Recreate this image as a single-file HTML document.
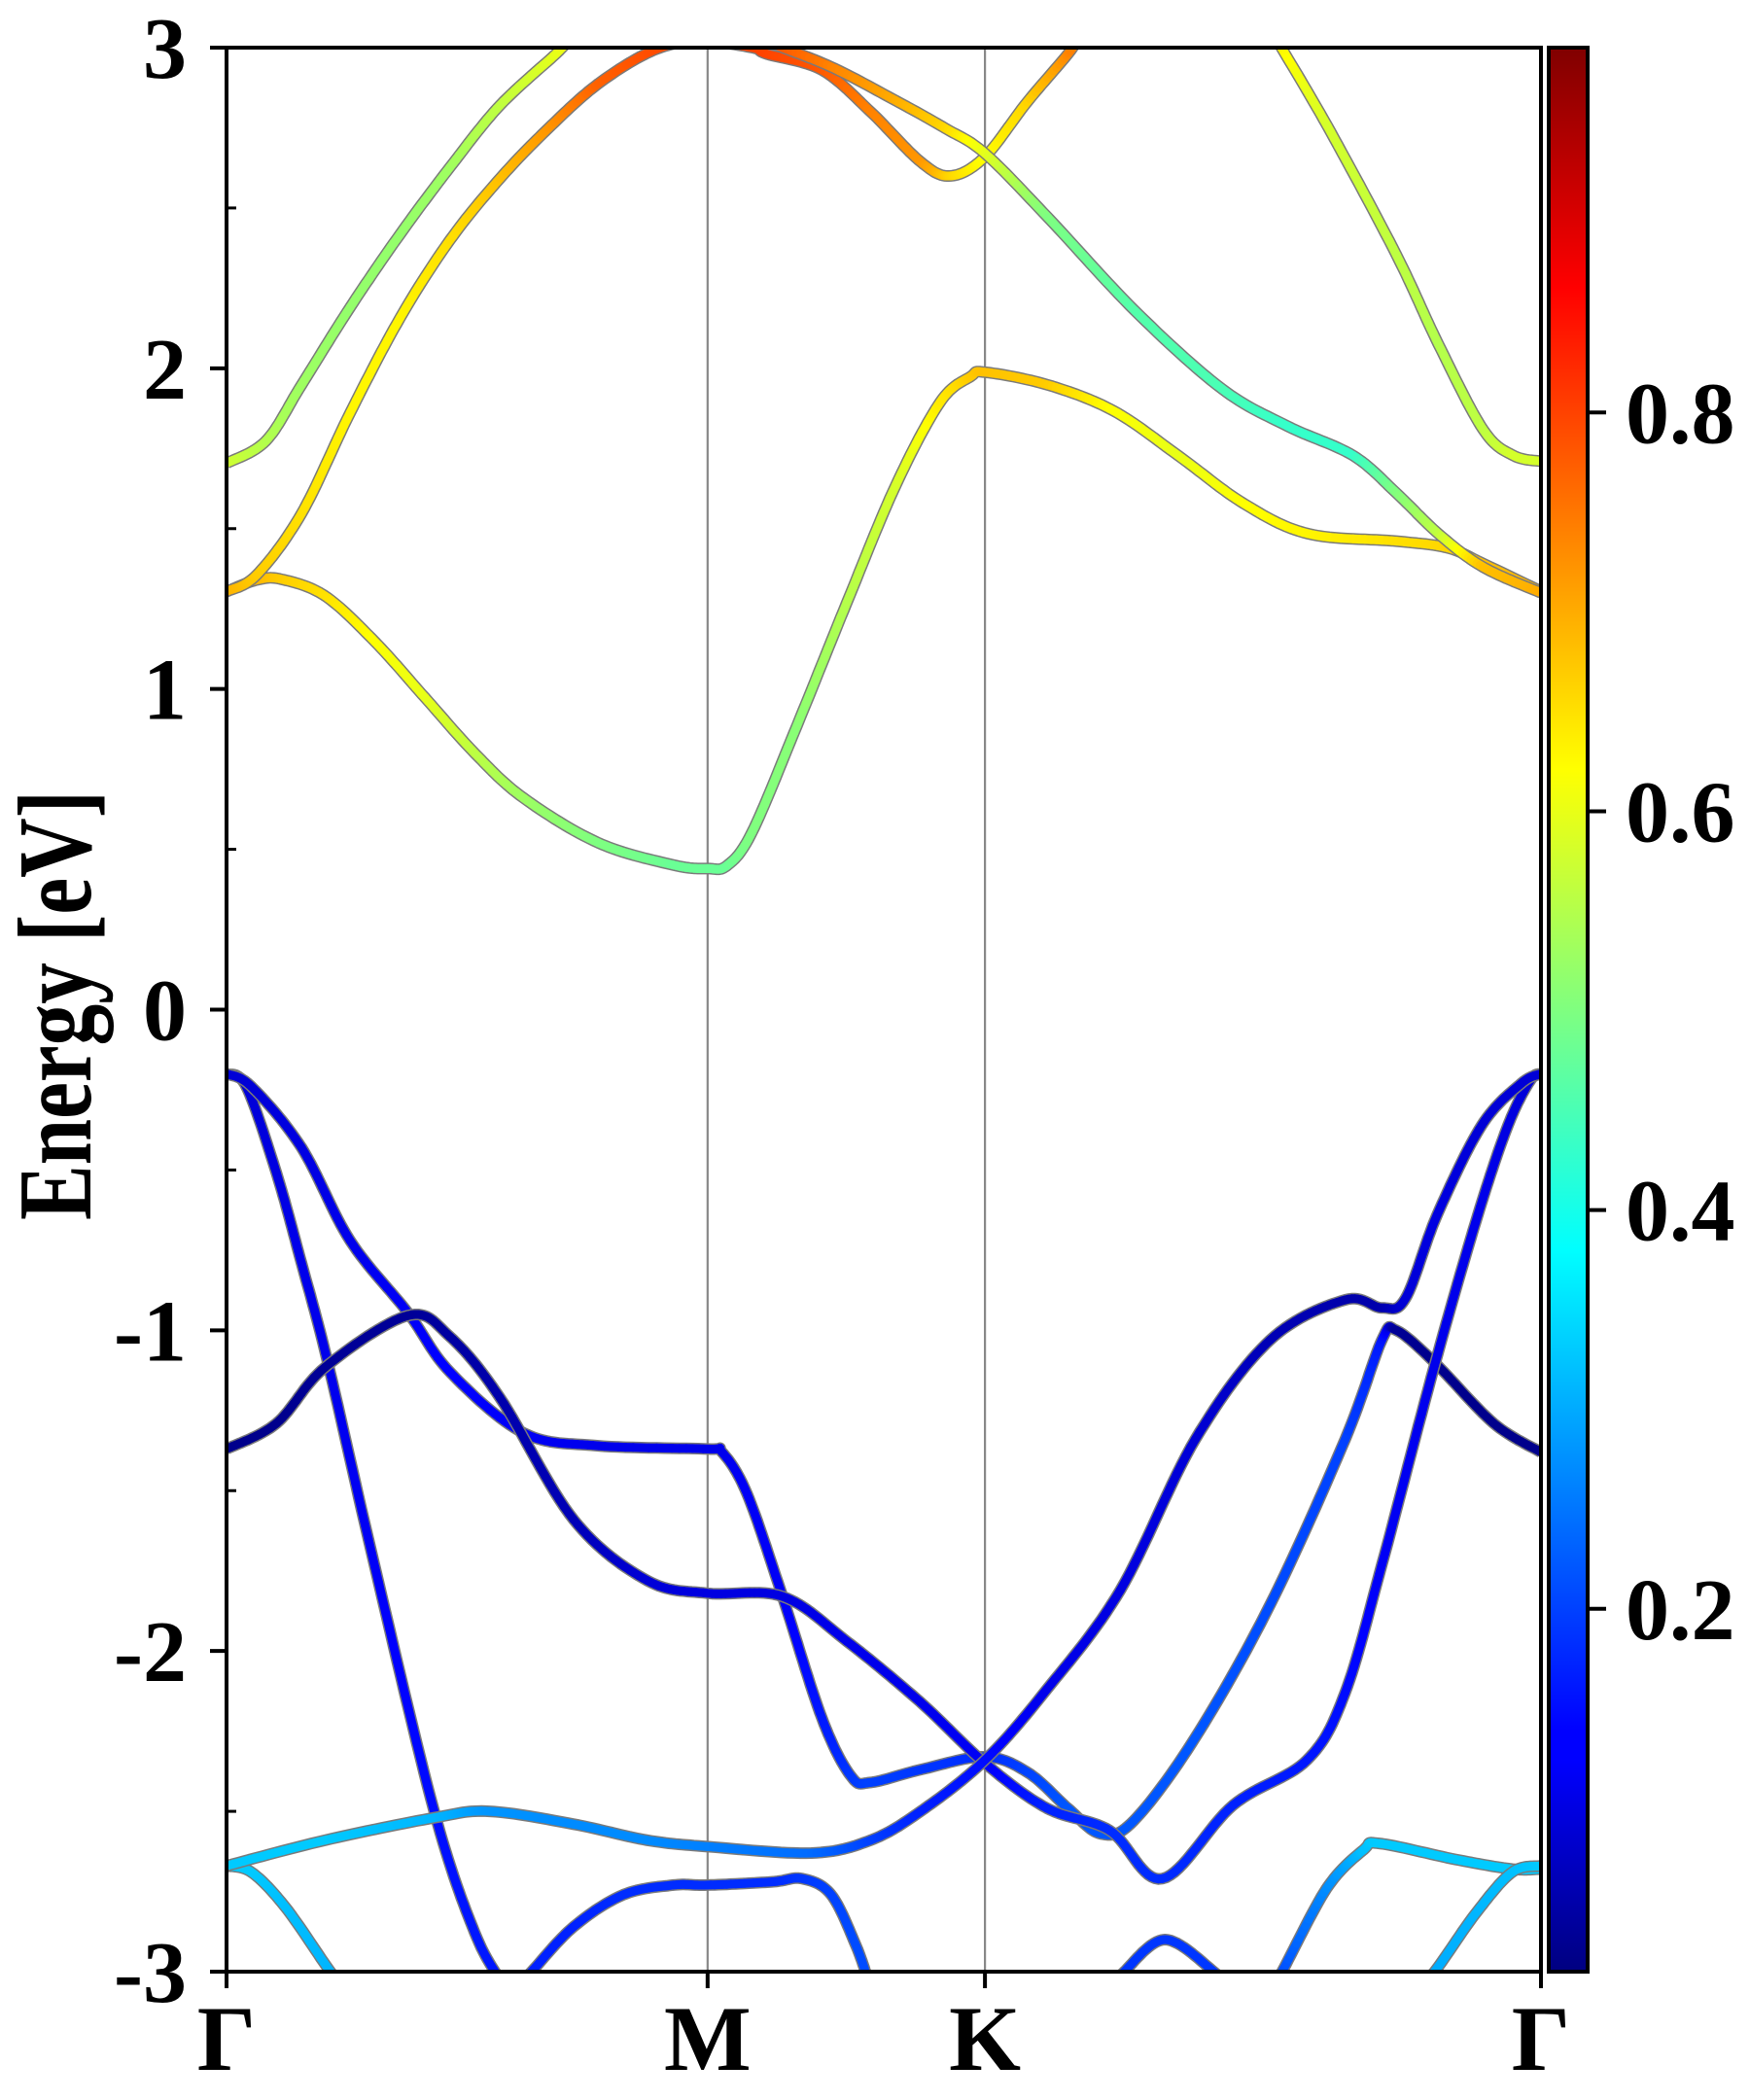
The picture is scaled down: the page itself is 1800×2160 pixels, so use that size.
<!DOCTYPE html>
<html><head><meta charset="utf-8">
<style>
html,body{margin:0;padding:0;background:#fff;}
svg{display:block;}
text{font-family:"Liberation Serif","DejaVu Serif",serif;font-weight:bold;fill:#000;}
</style></head>
<body>
<svg id="chart" width="1800" height="2160" viewBox="0 0 1800 2160">
<defs>
  <clipPath id="plotclip"><rect x="233" y="49" width="1352" height="1979"/></clipPath>
  <linearGradient id="jetgrad" x1="0" y1="1" x2="0" y2="0">
    <stop offset="0" stop-color="#000080"/>
    <stop offset="0.11" stop-color="#0000ff"/>
    <stop offset="0.125" stop-color="#0000ff"/>
    <stop offset="0.375" stop-color="#00ffff"/>
    <stop offset="0.625" stop-color="#ffff00"/>
    <stop offset="0.875" stop-color="#ff0000"/>
    <stop offset="1" stop-color="#800000"/>
  </linearGradient>
</defs>
<g id="bands" clip-path="url(#plotclip)"></g>
<g id="axes"></g>
</svg>
<script>
// ---- data ----
const kLabels = ["Γ","M","K","Γ"];
const kLabelPos = [0, 0.366, 0.577, 1];
const yTicks = [-3,-2,-1,0,1,2,3];
const yTickLabels = ["-3","-2","-1","0","1","2","3"];
const cbTicks = [0.2,0.4,0.6,0.8];
const cbTickLabels = ["0.2","0.4","0.6","0.8"];
const cbMin = 0.018, cbMax = 0.983;
// each band: k (path fraction), E (eV), w (weight)
const bandK = [
  [0,0.015,0.038,0.057,0.077,0.113,0.158,0.189,0.211,0.218,0.232,0.264,0.302,0.34,0.366,0.415,0.438,0.46,0.479,0.49],
  [0,0.019,0.057,0.094,0.138,0.17,0.226,0.283,0.366,0.377,0.396,0.423,0.453,0.475,0.49,0.528,0.577,0.61,0.64,0.665,0.69,0.737,0.794,0.851,0.879,0.89,0.919,0.964,1],
  [0,0.038,0.075,0.138,0.17,0.208,0.264,0.32,0.366,0.423,0.472,0.528,0.577,0.624,0.672,0.712,0.766,0.822,0.851,0.879,0.919,0.952,0.975,0.992,1],
  [0,0.019,0.045,0.079,0.09],
  [0,0.075,0.158,0.2,0.264,0.32,0.366,0.445,0.49,0.528,0.577,0.624,0.68,0.737,0.794,0.851,0.879,0.897,0.921,0.955,0.985,1],
  [0.795,0.803,0.837,0.865,0.877,0.935,0.978,1],
  [0.905,0.919,0.95,0.978,1],
  [0.675,0.683,0.714,0.751,0.76],
  [0,0.023,0.042,0.075,0.113,0.151,0.189,0.226,0.283,0.34,0.366,0.381,0.4,0.434,0.472,0.509,0.543,0.566,0.577,0.625,0.675,0.724,0.774,0.823,0.89,0.929,0.956,1],
  [0,0.03,0.057,0.094,0.132,0.17,0.208,0.253,0.265],
  [0.795,0.804,0.84,0.89,0.922,0.956,0.979,1],
  [0,0.023,0.057,0.094,0.132,0.17,0.208,0.245,0.283,0.325,0.36,0.4,0.411,0.453,0.49,0.528,0.551,0.577,0.609,0.642,0.65],
  [0.4,0.411,0.46,0.509,0.547,0.577,0.625,0.691,0.757,0.807,0.857,0.89,0.922,0.956,1]
];
const bandE = [
  [-0.2,-0.24,-0.51,-0.79,-1.1,-1.74,-2.5,-2.88,-3.04,-3.06,-3.0,-2.86,-2.76,-2.73,-2.73,-2.72,-2.71,-2.76,-2.92,-3.05],
  [-0.2,-0.24,-0.43,-0.72,-0.945,-1.13,-1.32,-1.36,-1.37,-1.38,-1.51,-1.83,-2.21,-2.39,-2.41,-2.37,-2.33,-2.38,-2.49,-2.57,-2.53,-2.27,-1.855,-1.34,-1.03,-1.0,-1.1,-1.29,-1.38],
  [-1.37,-1.29,-1.115,-0.954,-1.02,-1.21,-1.59,-1.78,-1.82,-1.83,-1.97,-2.16,-2.35,-2.49,-2.56,-2.71,-2.48,-2.34,-2.13,-1.73,-1.11,-0.64,-0.36,-0.22,-0.2],
  [-2.67,-2.69,-2.8,-3.0,-3.05],
  [-2.67,-2.59,-2.52,-2.5,-2.54,-2.59,-2.61,-2.63,-2.59,-2.5,-2.34,-2.12,-1.81,-1.34,-1.03,-0.905,-0.93,-0.9,-0.64,-0.36,-0.23,-0.2],
  [-3.05,-3.0,-2.74,-2.62,-2.6,-2.65,-2.68,-2.68],
  [-3.05,-3.0,-2.82,-2.69,-2.67],
  [-3.05,-3.0,-2.9,-3.0,-3.05],
  [1.304,1.34,1.342,1.29,1.147,0.973,0.799,0.66,0.52,0.451,0.44,0.45,0.555,0.886,1.27,1.634,1.895,1.974,1.988,1.948,1.867,1.728,1.578,1.484,1.461,1.44,1.391,1.305],
  [1.704,1.774,1.948,2.19,2.418,2.627,2.82,2.99,3.05],
  [3.05,2.99,2.737,2.354,2.075,1.809,1.728,1.71],
  [1.304,1.356,1.547,1.861,2.157,2.4,2.592,2.749,2.888,2.992,3.02,3.0,2.98,2.93,2.8,2.644,2.6,2.66,2.83,2.99,3.05],
  [3.05,3.02,2.94,2.835,2.748,2.67,2.47,2.18,1.937,1.82,1.728,1.611,1.484,1.38,1.3]
];
const bandW = [
  [0.1,0.1,0.11,0.12,0.12,0.13,0.15,0.16,0.16,0.16,0.17,0.17,0.18,0.18,0.18,0.18,0.19,0.2,0.21,0.21],
  [0.1,0.1,0.11,0.12,0.13,0.14,0.13,0.12,0.12,0.12,0.13,0.13,0.16,0.19,0.2,0.19,0.18,0.2,0.22,0.22,0.22,0.22,0.21,0.2,0.16,0.04,0.03,0.03,0.03],
  [0.03,0.03,0.04,0.04,0.05,0.06,0.07,0.1,0.11,0.11,0.12,0.12,0.13,0.17,0.18,0.18,0.17,0.16,0.15,0.13,0.12,0.12,0.11,0.1,0.1],
  [0.33,0.33,0.32,0.31,0.31],
  [0.33,0.33,0.31,0.28,0.27,0.27,0.26,0.24,0.2,0.17,0.15,0.12,0.11,0.1,0.07,0.06,0.06,0.1,0.11,0.1,0.1,0.1],
  [0.2,0.21,0.27,0.32,0.33,0.33,0.33,0.33],
  [0.3,0.3,0.31,0.32,0.33],
  [0.19,0.19,0.19,0.19,0.19],
  [0.7,0.69,0.67,0.65,0.62,0.6,0.56,0.53,0.5,0.48,0.48,0.48,0.5,0.51,0.55,0.58,0.64,0.67,0.68,0.67,0.62,0.6,0.62,0.63,0.65,0.66,0.68,0.69],
  [0.58,0.55,0.53,0.52,0.52,0.53,0.56,0.6,0.6],
  [0.64,0.63,0.58,0.56,0.55,0.56,0.58,0.58],
  [0.7,0.67,0.65,0.63,0.63,0.65,0.68,0.72,0.77,0.79,0.8,0.8,0.8,0.78,0.74,0.72,0.66,0.62,0.66,0.74,0.75],
  [0.8,0.8,0.74,0.7,0.66,0.6,0.5,0.46,0.45,0.43,0.43,0.5,0.56,0.68,0.7]
];

// ---- geometry ----
const PL=233, PR=1585, PT=49, PB=2028;
const Emin=-3, Emax=3;
function xS(k){return PL + k*(PR-PL);}
function yS(e){return PT + (Emax-e)/(Emax-Emin)*(PB-PT);}
const CBL=1591, CBR=1635;
function yC(v){return PT + (cbMax-v)/(cbMax-cbMin)*(PB-PT);}
const NS="http://www.w3.org/2000/svg";
function mk(tag, attrs, parent){
  const el=document.createElementNS(NS,tag);
  for(const k in attrs) el.setAttribute(k, attrs[k]);
  parent.appendChild(el); return el;
}
function jet(t){
  t=Math.max(0,Math.min(1,t));
  let r,g,b;
  if(t<0.125){r=0;g=0;b=0.5+4*t;}
  else if(t<0.375){r=0;g=(t-0.125)*4;b=1;}
  else if(t<0.625){r=(t-0.375)*4;g=1;b=1-(t-0.375)*4;}
  else if(t<0.875){r=1;g=1-(t-0.625)*4;b=0;}
  else {r=1-(t-0.875)*4;g=0;b=0;}
  return "rgb("+Math.round(r*255)+","+Math.round(g*255)+","+Math.round(b*255)+")";
}
function wColor(w){return jet((w-cbMin)/(cbMax-cbMin));}

const bandsG=document.getElementById('bands');
const axesG=document.getElementById('axes');

[1,2].forEach(i=>{
  const l=mk('line',{x1:xS(kLabelPos[i]),x2:xS(kLabelPos[i]),y1:PT,y2:PB,stroke:'#888',"stroke-width":2.2},bandsG);
  
  
});

function sampleBand(K,E,W){
  const pts=[];
  const P=K.map((k,i)=>[xS(k),yS(E[i]),W[i]]);
  for(let i=0;i<P.length-1;i++){
    const p0=P[Math.max(0,i-1)],p1=P[i],p2=P[i+1],p3=P[Math.min(P.length-1,i+2)];
    const n=16;
    for(let s=0;s<n;s++){
      const t=s/n,t2=t*t,t3=t2*t;
      const f=(a,b,c,d)=>0.5*((2*b)+(-a+c)*t+(2*a-5*b+4*c-d)*t2+(-a+3*b-3*c+d)*t3);
      pts.push([f(p0[0],p1[0],p2[0],p3[0]), f(p0[1],p1[1],p2[1],p3[1]), p1[2]+(p2[2]-p1[2])*t]);
    }
  }
  const L=P[P.length-1]; pts.push([L[0],L[1],L[2]]);
  return pts;
}
bandK.forEach((K,bi)=>{
  const g=mk('g',{},bandsG);
  
  
  const pts=sampleBand(K,bandE[bi],bandW[bi]);
  const d=pts.map((p,i)=>(i?'L':'M')+p[0].toFixed(1)+' '+p[1].toFixed(1)).join(' ');
  mk('path',{d:d,fill:'none',stroke:'#7a7a7a',"stroke-width":12,"stroke-linejoin":'round',"stroke-linecap":'butt'},g);
  for(let i=0;i<pts.length-1;i++){
    const a=pts[i],b=pts[i+1];
    mk('line',{x1:a[0].toFixed(1),y1:a[1].toFixed(1),x2:b[0].toFixed(1),y2:b[1].toFixed(1),stroke:wColor((a[2]+b[2])/2),"stroke-width":9,"stroke-linecap":'round'},g);
  }
});

const frame=mk('rect',{x:PL,y:PT,width:PR-PL,height:PB-PT,fill:'none',stroke:'#000',"stroke-width":4},axesG);



yTicks.forEach((v,i)=>{
  const y=yS(v);
  mk('line',{x1:PL-17,x2:PL,y1:y,y2:y,stroke:'#000',"stroke-width":4},axesG);
  const t=mk('text',{x:192,y:y+31,"text-anchor":'end',"font-size":90},axesG);
  t.textContent=yTickLabels[i];
  
  
  if(i<yTicks.length-1){
    const ym=yS(v+0.5);
    mk('line',{x1:PL,x2:PL+10,y1:ym,y2:ym,stroke:'#000',"stroke-width":3},axesG);
  }
});
kLabelPos.forEach((k,i)=>{
  const x=xS(k);
  mk('line',{x1:x,x2:x,y1:PB,y2:PB+17,stroke:'#000',"stroke-width":4},axesG);
  const t=mk('text',{x:x,y:2129,"text-anchor":'middle',"font-size":95},axesG);
  t.textContent=kLabels[i];
  
  
});
const yt=mk('text',{x:0,y:0,"text-anchor":'middle',"font-size":108,transform:'translate(93,1034) rotate(-90)',textLength:442,lengthAdjust:'spacingAndGlyphs'},axesG);
yt.textContent='Energy [eV]';



const cb=mk('rect',{x:CBL+2,y:PT,width:CBR-CBL-4,height:PB-PT,fill:'url(#jetgrad)',stroke:'#000',"stroke-width":4},axesG);


cbTicks.forEach((v,i)=>{
  const y=yC(v);
  mk('line',{x1:CBR,x2:CBR+17,y1:y,y2:y,stroke:'#000',"stroke-width":4},axesG);
  const t=mk('text',{x:1672,y:y+31,"text-anchor":'start',"font-size":90},axesG);
  t.textContent=cbTickLabels[i];
  
  
});
</script>
</body></html>
